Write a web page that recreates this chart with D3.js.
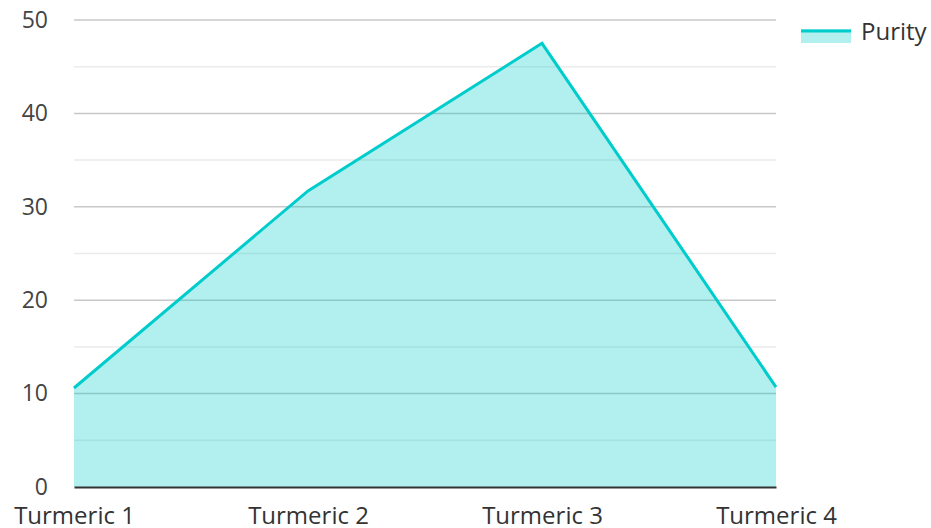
<!DOCTYPE html>
<html><head><meta charset="utf-8">
<script src="https://cdn.jsdelivr.net/npm/d3@7"></script>
<style>body{margin:0;background:#fff;}svg{display:block;font-family:"Open Sans","Noto Sans",sans-serif;}</style>
</head><body>
<svg id="c" width="931" height="528"></svg>
<script>
const categories = ["Turmeric 1", "Turmeric 2", "Turmeric 3", "Turmeric 4"];
const purity = [10.6, 31.7, 47.5, 10.7];
const yTicks = [0, 10, 20, 30, 40, 50];
const minorTicks = [5, 15, 25, 35, 45];
const seriesName = "Purity";

const svg = d3.select("#c");
const L = 74, R = 776, T = 20, B = 487;
const x = d3.scalePoint().domain(categories).range([L, R]);
const y = d3.scaleLinear().domain([0, 50]).range([B, T]);

svg.append("g").selectAll("line").data(minorTicks).join("line")
  .attr("x1", L).attr("x2", R).attr("y1", d => y(d)).attr("y2", d => y(d))
  .attr("stroke", "#ebebeb").attr("stroke-width", 1.5);
svg.append("g").selectAll("line").data(yTicks.filter(d => d > 0)).join("line")
  .attr("x1", L).attr("x2", R).attr("y1", d => y(d)).attr("y2", d => y(d))
  .attr("stroke", "#c8c8c8").attr("stroke-width", 1.5);

const data = categories.map((c, i) => ({c, v: purity[i]}));
svg.append("path").datum(data)
  .attr("d", d3.area().x(d => x(d.c)).y0(y(0)).y1(d => y(d.v)))
  .attr("fill", "rgba(0,204,204,0.3)");
svg.append("path").datum(data)
  .attr("d", d3.line().x(d => x(d.c)).y(d => y(d.v)))
  .attr("fill", "none").attr("stroke", "#00cccc").attr("stroke-width", 3);

// axes
const yAxis = svg.append("g").attr("transform", `translate(${L},0)`)
  .call(d3.axisLeft(y).tickValues(yTicks).tickSize(0).tickPadding(26));
yAxis.select(".domain").remove();
yAxis.selectAll("text").attr("font-size", 23).attr("fill", "#444").attr("font-family", "Open Sans");

const xAxis = svg.append("g").attr("transform", `translate(0,${B})`)
  .call(d3.axisBottom(x).tickSize(0).tickPadding(20));
xAxis.select(".domain").attr("stroke", "#333").attr("stroke-width", 2);
xAxis.selectAll("text").attr("font-size", 24).attr("fill", "#333").attr("font-family", "Open Sans");

// legend
const lg = svg.append("g");
lg.append("rect").attr("x", 801).attr("y", 29).attr("width", 50).attr("height", 14).attr("fill", "rgba(0,204,204,0.3)");
lg.append("line").attr("x1", 801).attr("x2", 851).attr("y1", 31).attr("y2", 31).attr("stroke", "#00cccc").attr("stroke-width", 3);
lg.append("text").attr("x", 861).attr("y", 40).text(seriesName)
  .attr("font-size", 24).attr("fill", "#333");
</script>
</body></html>
